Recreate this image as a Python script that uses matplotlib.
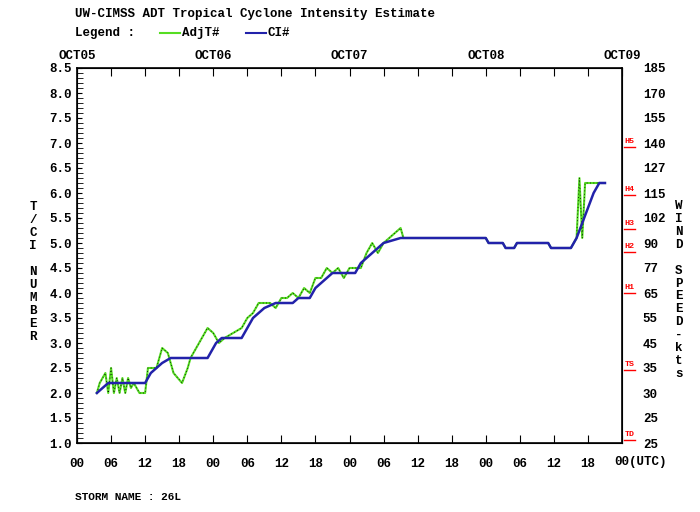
import matplotlib
matplotlib.use("Agg")
import matplotlib.pyplot as plt

ci_t = [3.5,4.5,5.5,12,13,14,15,16.5,23,24.5,25.5,29,31,33,35,38,39,41,42,43,44,45,49,50,52,53,54,57,72,72.5,75,75.5,77,77.5,83,83.5,87,88,89,90,91,92,93]
ci_v = [2.0,2.1,2.2,2.2,2.4,2.5,2.6,2.7,2.7,3.0,3.1,3.1,3.5,3.7,3.8,3.8,3.9,3.9,4.1,4.2,4.3,4.4,4.4,4.6,4.8,4.9,5.0,5.1,5.1,5.0,5.0,4.9,4.9,5.0,5.0,4.9,4.9,5.1,5.4,5.7,6.0,6.2,6.2]
adj_t = [3.5,4,5,5.5,6,6.5,7,7.5,8,8.5,9,9.5,10,11,12,12.5,14,15,16,17,18.5,19.5,20,21,22,23,24,25,26,29,30,31,32,34,35,36,37,38,39,40,41,42,43,44,45,46,47,48,50,51,52,53,54,55,56,57,57.5,72,72.5,75,75.5,77,77.5,83,83.5,87,88,88.5,89,89.5,93]
adj_v = [2.0,2.2,2.4,2.0,2.5,2.0,2.3,2.0,2.3,2.0,2.3,2.1,2.2,2.0,2.0,2.5,2.5,2.9,2.8,2.4,2.2,2.5,2.7,2.9,3.1,3.3,3.2,3.0,3.1,3.3,3.5,3.6,3.8,3.8,3.7,3.9,3.9,4.0,3.9,4.1,4.0,4.3,4.3,4.5,4.4,4.5,4.3,4.5,4.5,4.8,5.0,4.8,5.0,5.1,5.2,5.3,5.1,5.1,5.0,5.0,4.9,4.9,5.0,5.0,4.9,4.9,5.1,6.3,5.1,6.2,6.2]
day_labels = ["OCT05","OCT06","OCT07","OCT08","OCT09"]
hour_labels = ["00","06","12","18"]*4 + [""]
end_label = "00(UTC)"
ci_ticks = [8.5,8.0,7.5,7.0,6.5,6.0,5.5,5.0,4.5,4.0,3.5,3.0,2.5,2.0,1.5,1.0]
wind_labels = ["185","170","155","140","127","115","102","90","77","65","55","45","35","30","25","25"]
cat_names = ["TD","TS","H1","H2","H3","H4","H5"]
cat_pos = [1.1,2.5,4.04,4.86,5.32,6.0,6.96]

FONT = dict(family="Liberation Mono", weight="bold")
fig = plt.figure(figsize=(7,5.12), dpi=100)
ax = fig.add_axes([77/700, 1-443/512, 545/700, 375/512])
ax.plot(adj_t, adj_v, color="#55dd22", lw=1.5)
ax.plot(adj_t, adj_v, color="black", lw=0.6, ls=(0,(1,3)))
ax.plot(ci_t, ci_v, color="#2222aa", lw=1.8)
ax.set_xlim(0,96); ax.set_ylim(1.0,8.5)
ax.set_xticks([i*6 for i in range(17)])
ax.set_xticklabels(hour_labels, fontsize=9, **FONT)
ax.text(94.6, 1.0, end_label, fontsize=9, ha="left", va="top",
        transform=ax.transData + matplotlib.transforms.ScaledTranslation(0, -13/100, fig.dpi_scale_trans), **FONT)
ax.set_yticks(ci_ticks)
ax.set_yticklabels([f"{v:.1f}" for v in ci_ticks], fontsize=9, **FONT)
ax.set_yticks([1+0.1*i for i in range(76)], minor=True)
ax.tick_params(axis="y", which="both", direction="in", right=True)
ax.tick_params(axis="y", which="minor", length=4)
ax.tick_params(axis="x", direction="in", top=True, length=6, pad=11)
for s in ax.spines.values(): s.set_linewidth(1.2)
ax2 = ax.twinx(); ax2.set_ylim(1.0,8.5)
ax2.set_yticks(ci_ticks)
ax2.set_yticklabels(wind_labels, fontsize=9, **FONT)
ax2.tick_params(axis="y", direction="in", length=0, pad=15)
for n,p in zip(cat_names, cat_pos):
    ax.plot([96.3,98.3],[p-0.04,p-0.04], color="red", lw=1, clip_on=False)
    ax.text(96.5, p, n, color="red", fontsize=6, ha="left", va="bottom", **FONT)
for i,d in enumerate(day_labels):
    ax.text(i*24, 8.62, d, ha="center", va="bottom", fontsize=9, **FONT)
fig.text(33/700, 1-272/512, "\n".join("T/CI NUMBER"), fontsize=9, ha="center", va="center", linespacing=1.1, **FONT)
fig.text(679/700, 1-290/512, "\n".join("WIND SPEED-kts"), fontsize=9, ha="center", va="center", linespacing=1.1, **FONT)
fig.text(75/700, 1-14/512, "UW-CIMSS ADT Tropical Cyclone Intensity Estimate", fontsize=9, va="center", **FONT)
fig.text(75/700, 1-33/512, "Legend :", fontsize=9, va="center", **FONT)
fig.lines.append(plt.Line2D([160/700,180/700],[1-33/512]*2, color="#55dd22", lw=1.5, transform=fig.transFigure))
fig.text(182/700, 1-33/512, "AdjT#", fontsize=9, va="center", **FONT)
fig.lines.append(plt.Line2D([246/700,266/700],[1-33/512]*2, color="#2222aa", lw=1.5, transform=fig.transFigure))
fig.text(268/700, 1-33/512, "CI#", fontsize=9, va="center", **FONT)
fig.text(75/700, 1-497/512, "STORM NAME : 26L", fontsize=8, va="center", **FONT)
fig.savefig("out.png", dpi=100)
